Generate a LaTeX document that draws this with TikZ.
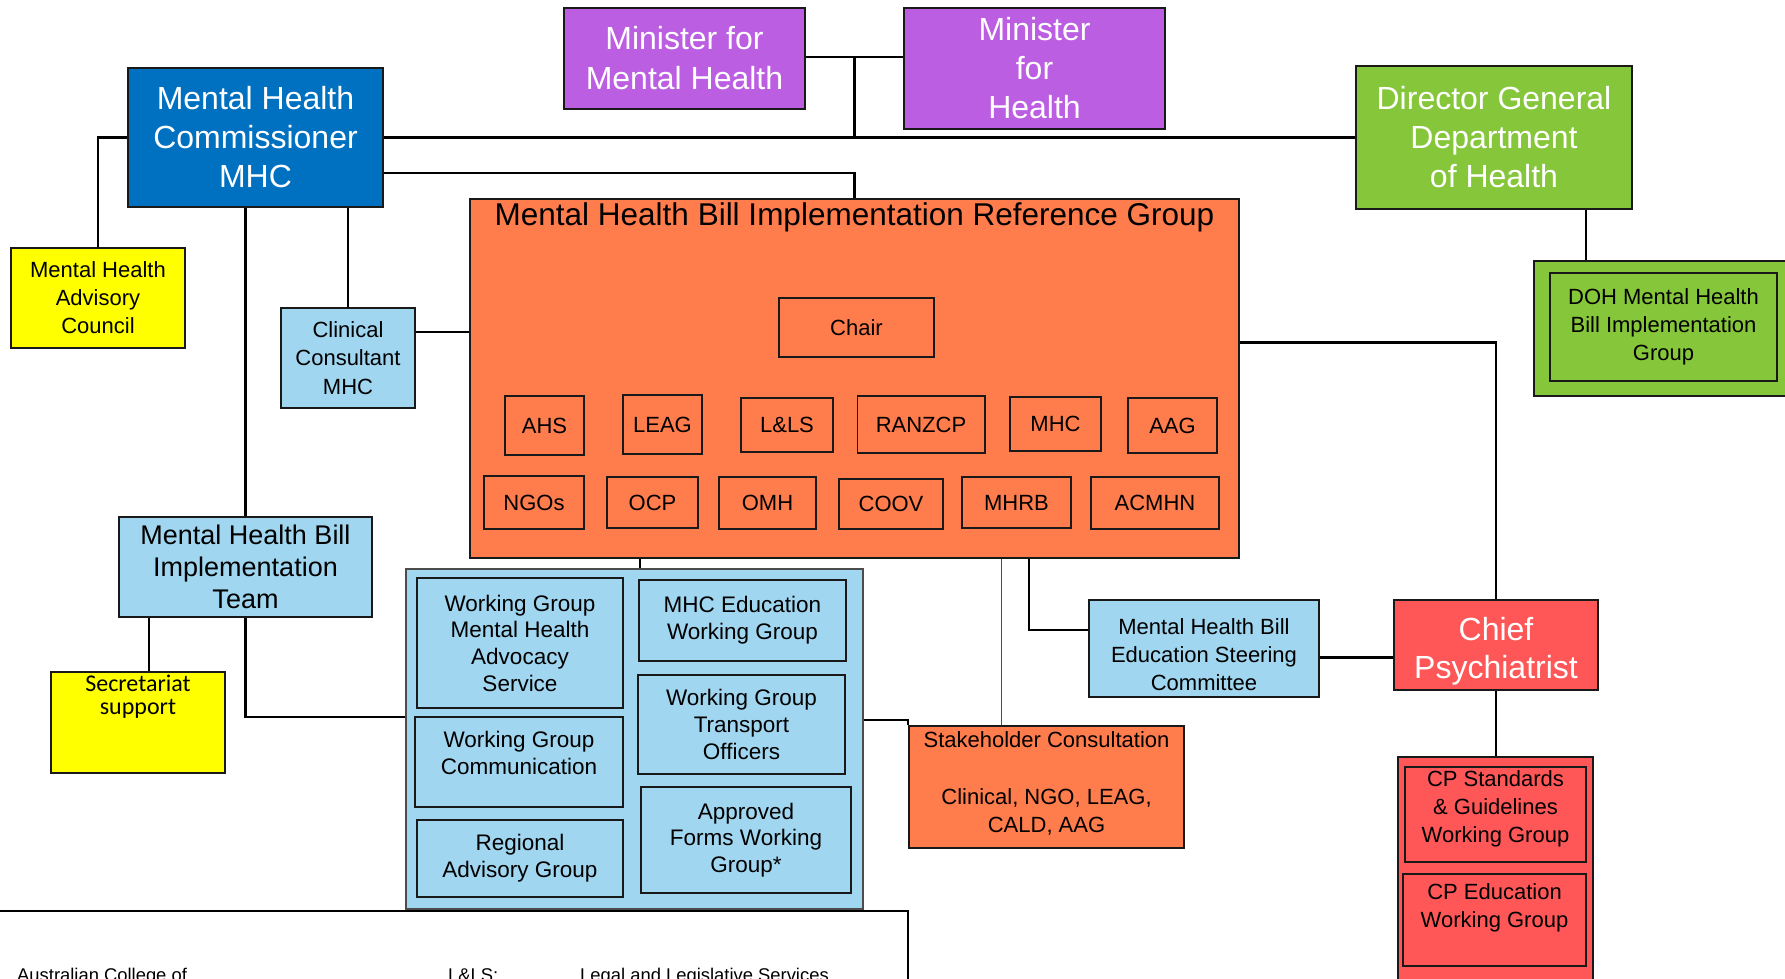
\documentclass[tikz,border=0pt]{standalone}
\usepackage{fontspec}
\setmainfont{Liberation Sans}
\newfontfamily\secfont{Carlito}
\usetikzlibrary{positioning}

\definecolor{mhcblue}{RGB}{0,112,192}
\definecolor{minpurple}{RGB}{188,94,226}
\definecolor{dohgreen}{RGB}{134,198,59}
\definecolor{refcoral}{RGB}{255,124,76}
\definecolor{wgblue}{RGB}{160,214,239}
\definecolor{cpred}{RGB}{255,87,87}
\definecolor{advyellow}{RGB}{255,255,0}

\begin{document}
\begin{tikzpicture}
	[x=1pt, y=-1pt,
	 box/.style={draw=black!90, line width=1.5pt, align=center, inner sep=0pt},
	 sz/.style 2 args={minimum width=#1, minimum height=#2},
	 headbox/.style={box, text=white, font=\fontsize{32}{39}\selectfont},
	 smallbox/.style={box, font=\fontsize{22}{28}\selectfont},
	 wgbox/.style={box, fill=wgblue, font=\fontsize{22.5}{26.7}\selectfont},
	 link/.style={line width=2.2pt},
	 thinlink/.style={line width=1pt, black!70},
	 legendtxt/.style={font=\fontsize{18.4}{22}\selectfont, inner sep=0pt}]

	\useasboundingbox (0,0) rectangle (1785,978);
	\clip (0,0) rectangle (1785,978);

	% top level
	\node[headbox, fill=mhcblue, sz={255}{139}] (mhc) at (255.5,137.5) {Mental Health\\Commissioner\\MHC};
	\node[headbox, fill=minpurple, sz={241}{101}, font=\fontsize{32}{40}\selectfont] (minmh) at (684.5,58.5) {Minister for\\Mental Health};
	\node[headbox, fill=minpurple, sz={261}{121}] (minh) at (1034.5,68.5) {Minister\\for\\Health};
	\node[headbox, fill=dohgreen, sz={276}{143}] (dg) at (1494,137.5) {Director General\\Department\\of Health};

	\node[box, fill=dohgreen, sz={256}{135}] (dohout) at (1662,328.5) {};
	\node[smallbox, fill=dohgreen, sz={227}{108}] (dohin) at (1663.5,327) {DOH Mental Health\\Bill Implementation\\Group};

	\node[smallbox, fill=advyellow, sz={174}{100}] (adv) at (98,298) {Mental Health\\Advisory\\Council};
	\node[smallbox, fill=wgblue, sz={134}{100}, font=\fontsize{22}{28.5}\selectfont] (cc) at (348,358) {Clinical\\Consultant\\MHC};

	% reference group
	\node[box, fill=refcoral, sz={769}{359}] (ref) at (854.5,378.5) {};
	\node[anchor=north, inner sep=4.5pt, font=\fontsize{31.5}{36}\selectfont] (reftitle) at (ref.north) {Mental Health Bill Implementation Reference Group};
	\node[smallbox, fill=refcoral, sz={155}{59}] (chair) at (856.5,327.5) {Chair};
	\foreach \nm/\cx/\cy/\bw/\bh/\lbl in {ahs/544.5/425.5/79/59/AHS, leag/662.5/424.5/79/59/LEAG,
		lls/787/425/92/54/L\&LS, ranzcp/921/424.5/127.5/57/RANZCP, mhcrep/1055.5/424/91/54/MHC,
		aag/1172.5/425.5/89/55/AAG, ngos/534/502.5/100/53/NGOs, ocp/652.5/502.5/91/51/OCP,
		omh/767.5/503/97/52/OMH, coov/891/504/104/50/COOV, mhrb/1016.5/502.5/109/51/MHRB,
		acmhn/1155/503/128/52/ACMHN}
		\node[smallbox, fill=refcoral, sz={\bw}{\bh}] (\nm) at (\cx,\cy) {\lbl};

	% implementation team side
	\node[box, fill=wgblue, sz={253}{100}, font=\fontsize{27}{32.3}\selectfont] (mhbit) at (245.5,567) {Mental Health Bill\\Implementation\\Team};
	\node[box, fill=advyellow, sz={174}{101}, font=\secfont\fontsize{24}{22.7}\selectfont] (sec) at (138,722.5) {Secretariat\\support\\~\\[10pt]~};

	\node[box, fill=wgblue, draw=black!70, sz={457}{340}] (wgcont) at (634.5,739) {};
	\node[wgbox, sz={206}{130}] (wgmhas) at (520,643) {Working Group\\Mental Health\\Advocacy\\Service};
	\node[wgbox, sz={208}{90}] (wgcomm) at (519,762) {Working Group\\Communication\\[-9pt]~};
	\node[wgbox, sz={206}{77}] (regional) at (520,858.5) {Regional\\Advisory Group};
	\node[wgbox, sz={207}{81}] (mhced) at (742.5,620.5) {MHC Education\\Working Group};
	\node[wgbox, sz={207}{99}] (wgtrans) at (741.5,724.5) {Working Group\\Transport\\Officers};
	\node[wgbox, sz={210}{106}] (forms) at (746,840) {Approved\\Forms Working\\Group*};

	\node[smallbox, fill=refcoral, sz={275}{122}, font=\fontsize{22}{28.5}\selectfont] (stake) at (1046.5,787) {Stakeholder Consultation\\~\\Clinical, NGO, LEAG,\\CALD, AAG\rule[-10pt]{0pt}{0pt}};
	\node[smallbox, fill=wgblue, sz={230}{97}] (edsteer) at (1204,648.5) {\rule{0pt}{29pt}Mental Health Bill\\Education Steering\\Committee};

	% chief psychiatrist
	\node[headbox, fill=cpred, sz={204}{90}, font=\fontsize{32}{38}\selectfont] (chief) at (1496,645) {\rule{0pt}{36pt}Chief\\Psychiatrist};
	\node[box, fill=cpred, sz={195}{243}] (cpout) at (1495.5,878.5) {};
	\node[smallbox, fill=cpred, sz={181}{95}] (cpstd) at (1495.5,814.5) {CP Standards\\\& Guidelines\\Working Group\rule[-16pt]{0pt}{0pt}};
	\node[smallbox, fill=cpred, sz={183}{92}] (cped) at (1494.5,920) {CP Education\\Working Group\\~};

	% legend
	\node[draw=black, line width=1.8pt, sz={918}{99}, inner sep=0pt] (legend) at (449,960.5) {};
	\node[legendtxt, anchor=base west] (lgacmhn) at (17,981) {Australian College of};
	\node[legendtxt, anchor=base west] (lglls) at (448,981) {L\&LS:};
	\node[legendtxt, anchor=base west] (lgllsname) at (580,981) {Legal and Legislative Services};

	% connectors
	\coordinate (mintap) at (854.5,57);
	\draw[link] (minmh.east |- mintap) -- (minh.west |- mintap);
	\draw[link] (mintap) -- (mintap |- mhc.east);
	\draw[link] (mhc.east) -- (dg.west);
	\draw[link] ([yshift=-35.5pt]mhc.east) -| (ref.north);
	\draw[link] (mhc.west) -| (adv.north);
	\draw[link] (cc.north) -- (cc.north |- mhc.south);
	\coordinate (ccout) at ([yshift=26pt]cc.east);
	\draw[link] (ccout) -- (ccout -| ref.west);
	\draw[link] (mhc.south -| mhbit.north) -- (mhbit.north);
	\coordinate (secin) at ([xshift=11pt]sec.north);
	\draw[link] (secin) -- (secin |- mhbit.south);
	\coordinate (wgin) at ([yshift=22pt]wgcont.west);
	\draw[link] (mhbit.south) |- (wgin);
	\coordinate (wgtop) at ([xshift=5.5pt]wgcont.north);
	\draw[link] (wgtop) -- (wgtop |- ref.south);
	\coordinate (wgout) at ([yshift=19pt]wgcont.east);
	\draw[link] (wgout) -| (stake.north west);
	\coordinate (staketap) at ([xshift=-45.5pt]stake.north);
	\draw[thinlink] (staketap) -- (staketap |- ref.south);
	\coordinate (edin) at ([yshift=18.5pt]edsteer.west);
	\coordinate (edtap) at ([xshift=-59.5pt]edin);
	\draw[link] (edin) -| (edtap |- ref.south);
	\coordinate (edout) at ([yshift=-9pt]edsteer.east);
	\draw[link] (edout) -- (edout -| chief.west);
	\coordinate (refout) at ([yshift=36pt]ref.east);
	\draw[link] (refout) -| (chief.north);
	\draw[link] (chief.south) -- (chief.south |- cpout.north);
	\coordinate (dgout) at ([xshift=92pt]dg.south);
	\draw[link] (dgout) -- (dgout |- dohout.north);
\end{tikzpicture}
\end{document}
